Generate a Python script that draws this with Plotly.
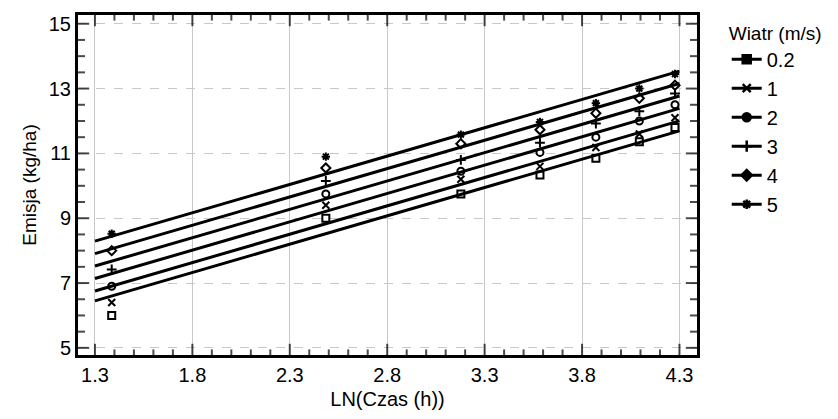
import numpy as np
import plotly.graph_objects as go

# Data
ln_czas = [1.386, 2.485, 3.178, 3.584, 3.871, 4.094, 4.277]
wiatr_labels = ["0.2", "1", "2", "3", "4", "5"]
wiatr_values = [0.2, 1, 2, 3, 4, 5]
emisja = {
    "0.2": [6.0, 9.0, 9.75, 10.33, 10.85, 11.36, 11.8],
    "1":   [6.4, 9.4, 10.2, 10.6, 11.18, 11.6, 12.1],
    "2":   [6.9, 9.75, 10.45, 11.03, 11.5, 12.0, 12.5],
    "3":   [7.42, 10.15, 10.8, 11.33, 11.92, 12.3, 12.85],
    "4":   [8.0, 10.55, 11.3, 11.73, 12.24, 12.7, 13.1],
    "5":   [8.52, 10.9, 11.58, 11.97, 12.55, 13.0, 13.45],
}
x_major = [1.3, 1.8, 2.3, 2.8, 3.3, 3.8, 4.3]
x_minor = [round(1.3 + 0.1 * k, 2) for k in range(31)]
y_major = [5, 7, 9, 11, 13, 15]
y_minor = [5 + 0.5 * k for k in range(21)]
x_range = [1.213, 4.39]
y_range = [4.78, 15.27]

open_symbols = ["square-open", "x-thin-open", "circle-open", "cross-thin-open", "diamond-open", "asterisk-open"]
leg_symbols = ["square", "x-thin-open", "circle", "cross-thin-open", "diamond", "asterisk-open"]

# Fit model: Emisja = a + b*LN(Czas) + c*Wiatr
X, Y = [], []
for lab, w in zip(wiatr_labels, wiatr_values):
    for xv, yv in zip(ln_czas, emisja[lab]):
        X.append([1.0, xv, w])
        Y.append(yv)
coef, *_ = np.linalg.lstsq(np.array(X), np.array(Y), rcond=None)
a, b, c = coef

FONT = "Liberation Sans, Arial, sans-serif"

fig = go.Figure()
line_x = np.array([1.3, 4.3])
for lab, w, sym, lsym in zip(wiatr_labels, wiatr_values, open_symbols, leg_symbols):
    fig.add_trace(go.Scatter(x=line_x, y=a + b * line_x + c * w, mode="lines",
                             line=dict(color="black", width=3), showlegend=False,
                             hoverinfo="skip"))
    fig.add_trace(go.Scatter(x=ln_czas, y=emisja[lab], mode="markers",
                             marker=dict(symbol=sym, size=7, color="black",
                                         line=dict(color="black", width=2)),
                             showlegend=False))
    fig.add_trace(go.Scatter(x=[None], y=[None], mode="lines+markers", name=lab,
                             line=dict(color="black", width=3),
                             marker=dict(symbol=lsym, size=8, color="black",
                                         line=dict(color="black", width=2.5))))

# Inside tick marks: line markers centred on the plot edges; the outer half is clipped
def is_major(v, majors):
    return any(abs(v - m) < 1e-6 for m in majors)

x_sizes = [16 if is_major(v, x_major) else 8 for v in x_minor]
y_sizes = [16 if is_major(v, y_major) else 10 for v in y_minor]
for edge in y_range:
    fig.add_trace(go.Scatter(x=x_minor, y=[edge] * len(x_minor), mode="markers",
                             marker=dict(symbol="line-ns", size=x_sizes, color="black",
                                         line=dict(color="black", width=2)),
                             showlegend=False, hoverinfo="skip"))
for edge in x_range:
    fig.add_trace(go.Scatter(x=[edge] * len(y_minor), y=y_minor, mode="markers",
                             marker=dict(symbol="line-ew", size=y_sizes, color="black",
                                         line=dict(color="black", width=2)),
                             showlegend=False, hoverinfo="skip"))

fig.update_layout(
    xaxis=dict(range=x_range, tickmode="array", tickvals=x_major,
               ticktext=[f"{v:.1f}" for v in x_major],
               showline=True, linecolor="black", linewidth=3, mirror=True, ticks="",
               showgrid=True, gridcolor="#c8c8c8", gridwidth=1, zeroline=False,
               tickfont=dict(family=FONT, size=20, color="black"),
               title=dict(text="LN(Czas (h))", font=dict(family=FONT, size=20, color="black"),
                          standoff=7)),
    yaxis=dict(range=y_range, tickmode="array", tickvals=y_major,
               showline=True, linecolor="black", linewidth=3, mirror=True, ticks="",
               showgrid=True, gridcolor="#c8c8c8", gridwidth=1, griddash="dash",
               zeroline=False,
               tickfont=dict(family=FONT, size=20, color="black"),
               title=dict(text="Emisja (kg/ha)", font=dict(family=FONT, size=19, color="black"),
                          standoff=8)),
    width=838, height=419,
    margin=dict(l=78, r=141, t=13, b=61),
    paper_bgcolor="white", plot_bgcolor="white",
    font=dict(family=FONT, color="black"),
    legend=dict(x=1.048, y=1.0, xanchor="left", yanchor="top",
                title=dict(text="Wiatr (m/s)", font=dict(family=FONT, size=19, color="black")),
                font=dict(family=FONT, size=20, color="black"),
                bgcolor="rgba(0,0,0,0)", tracegroupgap=0),
)

fig.write_html("out.html")
